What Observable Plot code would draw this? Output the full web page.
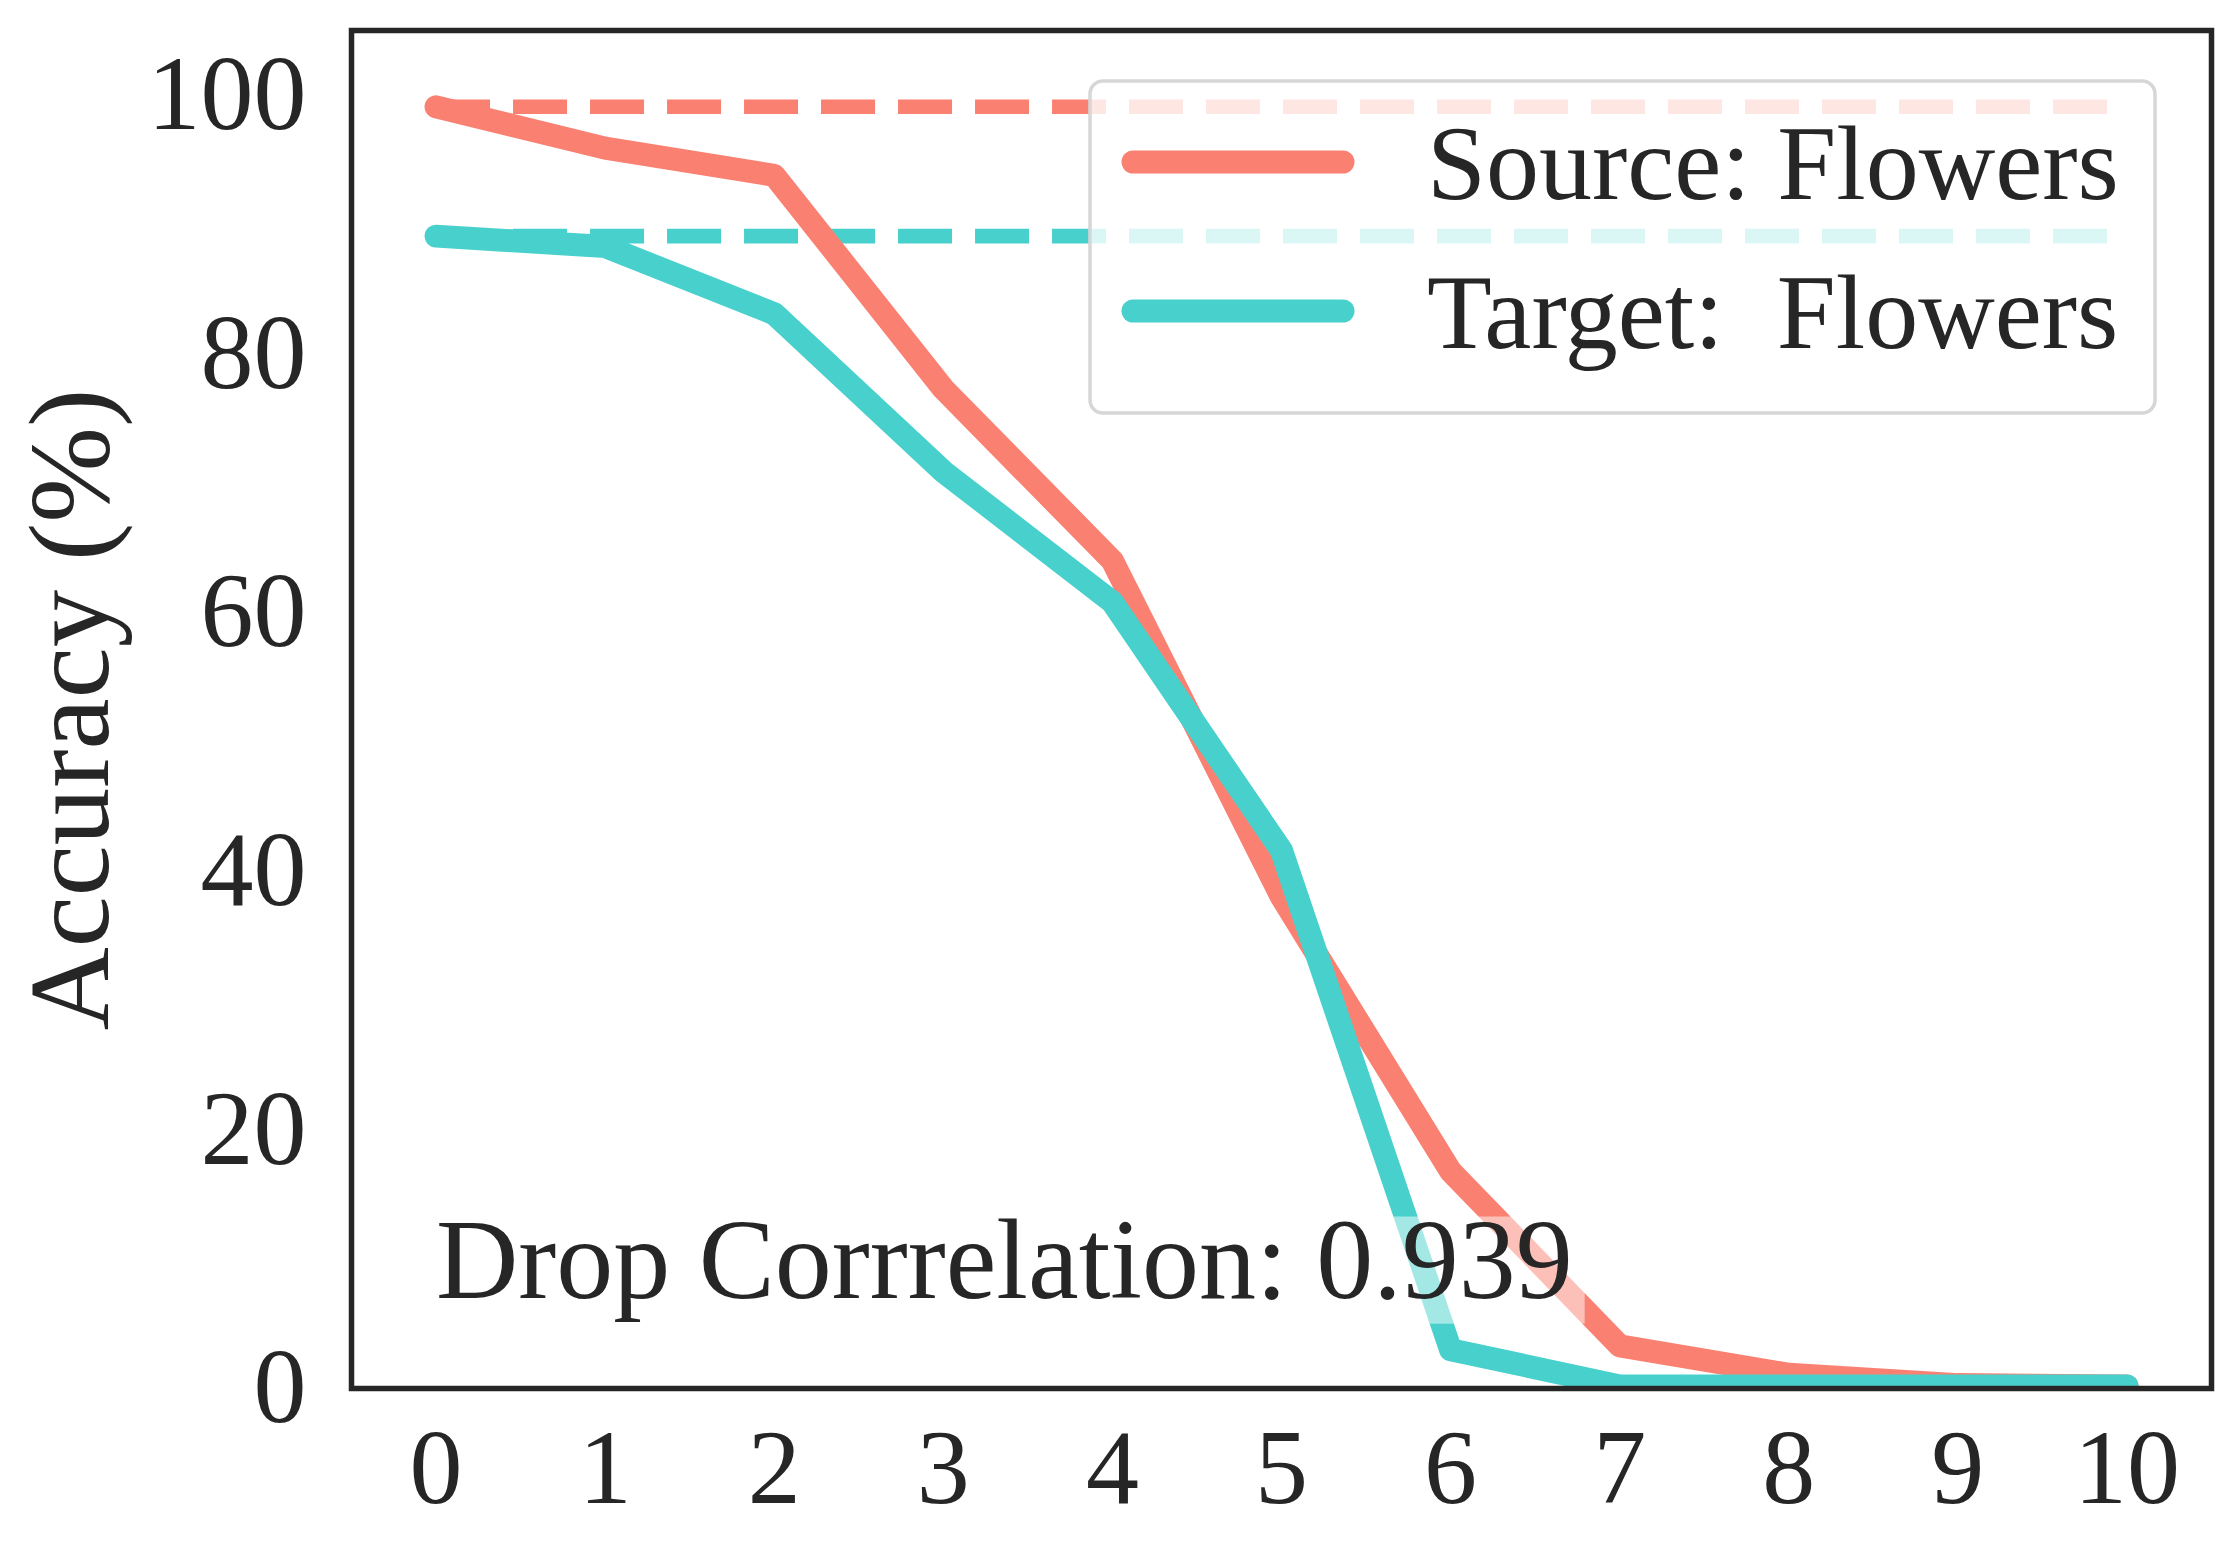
<!DOCTYPE html>
<html>
<head>
<meta charset="utf-8">
<script src="https://cdn.jsdelivr.net/npm/d3@7"></script>
<script src="https://cdn.jsdelivr.net/npm/@observablehq/plot@0.6"></script>
<style>
html, body { margin: 0; padding: 0; background: #fff; overflow: hidden; }
</style>
</head>
<body>
<div id="chart"></div>
<script>
// ---- data ----
const steps = [0, 1, 2, 3, 4, 5, 6, 7, 8, 9, 10];
const sourceAcc = [99.1, 95.9, 93.8, 77.3, 64.0, 38.0, 16.8, 3.3, 1.1, 0.3, 0.2];
const targetAcc = [89.1, 88.3, 83.1, 70.9, 60.8, 41.6, 3.0, 0.2, 0.2, 0.2, 0.2];
const xTicks = [0, 1, 2, 3, 4, 5, 6, 7, 8, 9, 10];
const yTicks = [0, 20, 40, 60, 80, 100];
const seriesNames = ["Source: Flowers", "Target:  Flowers"];
const seriesColors = ["#FA8072", "#48D1CC"];
const yLabel = "Accuracy (%)";
const annotation = "Drop Corrrelation: 0.939";
const annotationPos = {step: 0, acc: 7};

// ---- layout ----
const W = 2239, H = 1555;
const mL = 351, mR = 28, mT = 30, mB = 167;
const font = "'Liberation Serif', 'Times New Roman', serif";
const ink = "#262626";

const src = steps.map((s, i) => ({step: s, acc: sourceAcc[i]}));
const tgt = steps.map((s, i) => ({step: s, acc: targetAcc[i]}));
const first = steps[0], last = steps[steps.length - 1];
const srcRef = [{step: first, acc: sourceAcc[0]}, {step: last, acc: sourceAcc[0]}];
const tgtRef = [{step: first, acc: targetAcc[0]}, {step: last, acc: targetAcc[0]}];

const plot = Plot.plot({
  width: W, height: H,
  marginLeft: mL, marginRight: mR, marginTop: mT, marginBottom: mB,
  style: {fontFamily: font, color: ink, background: "white"},
  x: {domain: [-0.5, 10.5]},
  y: {domain: [0, 105]},
  marks: [
    Plot.line(srcRef, {x: "step", y: "acc", stroke: seriesColors[0], strokeWidth: 14.6, strokeDasharray: "54,23", strokeLinecap: "butt"}),
    Plot.line(tgtRef, {x: "step", y: "acc", stroke: seriesColors[1], strokeWidth: 14.6, strokeDasharray: "54,23", strokeLinecap: "butt"}),
    Plot.line(src, {x: "step", y: "acc", stroke: seriesColors[0], strokeWidth: 23, strokeLinecap: "round", strokeLinejoin: "round", clip: true}),
    Plot.line(tgt, {x: "step", y: "acc", stroke: seriesColors[1], strokeWidth: 23, strokeLinecap: "round", strokeLinejoin: "round", clip: true}),
    Plot.text([annotation], {x: () => annotationPos.step, y: () => annotationPos.acc, text: d => d, textAnchor: "start", lineAnchor: "bottom", fontSize: 114, fill: ink}),
    Plot.axisX({ticks: xTicks, tickSize: 0, tickPadding: 39, fontSize: 106, label: null, tickFormat: d => String(d)}),
    Plot.axisY({ticks: yTicks, tickSize: 0, tickPadding: 45, fontSize: 106, label: null, tickFormat: d => String(d)}),
    Plot.text([yLabel], {frameAnchor: "left", text: d => d, rotate: -90, dx: -280, fontSize: 115, fill: ink, textAnchor: "middle", lineAnchor: "middle"}),
    Plot.frame({stroke: ink, strokeWidth: 5.5})
  ]
});

document.getElementById("chart").append(plot);

const svg = d3.select(plot);
const xS = plot.scale("x"), yS = plot.scale("y");
const frameRight = xS.range[1];
const frameTop = Math.min(...yS.range);

// semi-transparent white box behind the annotation (drawn over the lines)
const annoNode = svg.selectAll("text").filter(function () { return this.textContent === annotation; }).node();
if (annoNode) {
  const r = annoNode.getBoundingClientRect();
  const sr = plot.getBoundingClientRect();
  const baseline = yS.apply(annotationPos.acc);
  const fs = 114;
  d3.select(annoNode.parentNode.parentNode).insert("rect", () => annoNode.parentNode)
    .attr("x", r.left - sr.left - 12)
    .attr("width", r.width + 24)
    .attr("y", baseline - 0.71 * fs)
    .attr("height", 0.94 * fs)
    .attr("fill", "white")
    .attr("fill-opacity", 0.5);
}

// legend (top-right, inside the frame)
const lw = 1065, lh = 332;
const lx = frameRight - 56 - lw;
const ly = frameTop + 51;
const lg = svg.append("g")
  .attr("font-family", font).attr("font-size", 106)
  .attr("fill", ink).attr("text-anchor", "start");
lg.append("rect")
  .attr("x", lx).attr("y", ly).attr("width", lw).attr("height", lh)
  .attr("rx", 13).attr("ry", 13)
  .attr("fill", "white").attr("fill-opacity", 0.8)
  .attr("stroke", "#d6d6d6").attr("stroke-width", 3.5);
seriesNames.forEach((name, i) => {
  const cy = ly + 81 + i * 149;
  lg.append("line")
    .attr("x1", lx + 43).attr("x2", lx + 253)
    .attr("y1", cy).attr("y2", cy)
    .attr("stroke", seriesColors[i]).attr("stroke-width", 23)
    .attr("stroke-linecap", "round");
  lg.append("text")
    .attr("x", lx + 337).attr("y", cy + 37)
    .attr("text-anchor", "start")
    .style("white-space", "pre")
    .text(name);
});
</script>
</body>
</html>
